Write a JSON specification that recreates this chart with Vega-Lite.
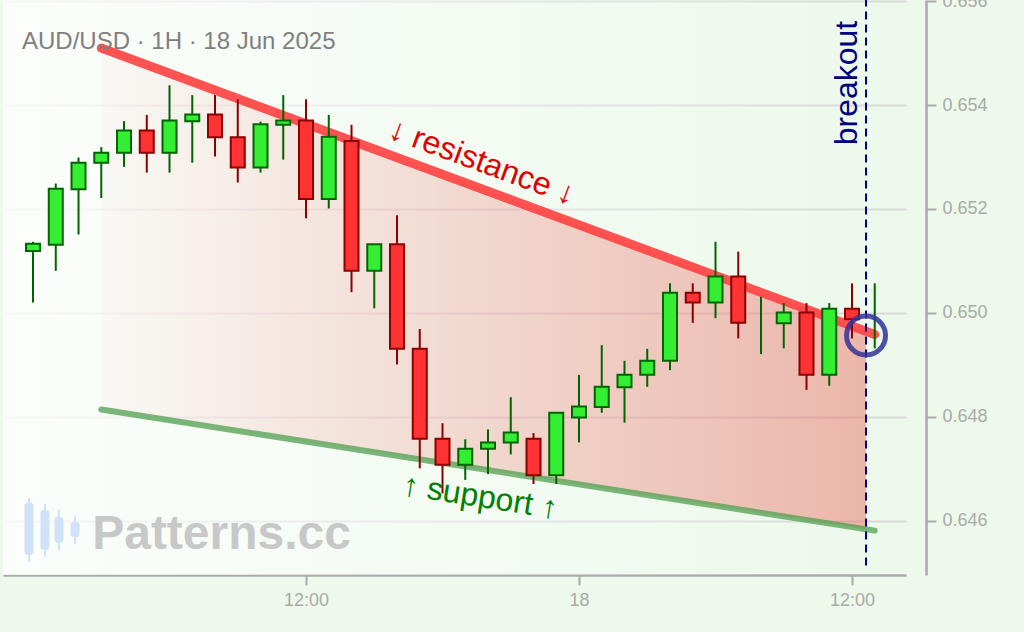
{
  "$schema": "https://vega.github.io/schema/vega-lite/v6.json",
  "width": 903,
  "height": 575,
  "autosize": "none",
  "padding": {"left": 3, "top": 0, "right": 118, "bottom": 57},
  "background": "#ecf9eb",
  "config": {
    "font": "Liberation Sans",
    "view": {"stroke": null},
    "axis": {
      "labelColor": "#aaaaaa",
      "labelFontSize": 18,
      "labelPadding": 6,
      "tickColor": "#aaaaaa",
      "tickSize": 10,
      "tickWidth": 2,
      "domainColor": "#aaaaaa",
      "domainWidth": 2.5,
      "gridColor": "#d9d9d9",
      "gridWidth": 2
    }
  },
  "datasets": {
    "candles": [
      {"t": "2025-06-17T00:00:00Z", "o": 0.65119, "h": 0.65137, "l": 0.65020, "c": 0.65133},
      {"t": "2025-06-17T01:00:00Z", "o": 0.65131, "h": 0.65249, "l": 0.65081, "c": 0.65239},
      {"t": "2025-06-17T02:00:00Z", "o": 0.65238, "h": 0.65299, "l": 0.65151, "c": 0.65289},
      {"t": "2025-06-17T03:00:00Z", "o": 0.65289, "h": 0.65319, "l": 0.65221, "c": 0.65308},
      {"t": "2025-06-17T04:00:00Z", "o": 0.65308, "h": 0.65369, "l": 0.65281, "c": 0.65351},
      {"t": "2025-06-17T05:00:00Z", "o": 0.65351, "h": 0.65381, "l": 0.65270, "c": 0.65308},
      {"t": "2025-06-17T06:00:00Z", "o": 0.65308, "h": 0.65438, "l": 0.65270, "c": 0.65370},
      {"t": "2025-06-17T07:00:00Z", "o": 0.65369, "h": 0.65419, "l": 0.65289, "c": 0.65382},
      {"t": "2025-06-17T08:00:00Z", "o": 0.65382, "h": 0.65419, "l": 0.65301, "c": 0.65338},
      {"t": "2025-06-17T09:00:00Z", "o": 0.65338, "h": 0.65411, "l": 0.65251, "c": 0.65280},
      {"t": "2025-06-17T10:00:00Z", "o": 0.65280, "h": 0.65368, "l": 0.65270, "c": 0.65363},
      {"t": "2025-06-17T11:00:00Z", "o": 0.65362, "h": 0.65419, "l": 0.65295, "c": 0.65370},
      {"t": "2025-06-17T12:00:00Z", "o": 0.65370, "h": 0.65411, "l": 0.65182, "c": 0.65219},
      {"t": "2025-06-17T13:00:00Z", "o": 0.65219, "h": 0.65381, "l": 0.65201, "c": 0.65339},
      {"t": "2025-06-17T14:00:00Z", "o": 0.65331, "h": 0.65362, "l": 0.65040, "c": 0.65081},
      {"t": "2025-06-17T15:00:00Z", "o": 0.65081, "h": 0.65132, "l": 0.65009, "c": 0.65132},
      {"t": "2025-06-17T16:00:00Z", "o": 0.65132, "h": 0.65188, "l": 0.64901, "c": 0.64931},
      {"t": "2025-06-17T17:00:00Z", "o": 0.64931, "h": 0.64969, "l": 0.64701, "c": 0.64758},
      {"t": "2025-06-17T18:00:00Z", "o": 0.64758, "h": 0.64788, "l": 0.64653, "c": 0.64708},
      {"t": "2025-06-17T19:00:00Z", "o": 0.64708, "h": 0.64757, "l": 0.64679, "c": 0.64739},
      {"t": "2025-06-17T20:00:00Z", "o": 0.64739, "h": 0.64776, "l": 0.64690, "c": 0.64751},
      {"t": "2025-06-17T21:00:00Z", "o": 0.64751, "h": 0.64838, "l": 0.64728, "c": 0.64770},
      {"t": "2025-06-17T22:00:00Z", "o": 0.64758, "h": 0.64769, "l": 0.64671, "c": 0.64688},
      {"t": "2025-06-17T23:00:00Z", "o": 0.64688, "h": 0.64808, "l": 0.64671, "c": 0.64808},
      {"t": "2025-06-18T00:00:00Z", "o": 0.64799, "h": 0.64881, "l": 0.64751, "c": 0.64820},
      {"t": "2025-06-18T01:00:00Z", "o": 0.64819, "h": 0.64938, "l": 0.64808, "c": 0.64858},
      {"t": "2025-06-18T02:00:00Z", "o": 0.64857, "h": 0.64908, "l": 0.64789, "c": 0.64881},
      {"t": "2025-06-18T03:00:00Z", "o": 0.64881, "h": 0.64931, "l": 0.64858, "c": 0.64908},
      {"t": "2025-06-18T04:00:00Z", "o": 0.64908, "h": 0.65057, "l": 0.64890, "c": 0.65039},
      {"t": "2025-06-18T05:00:00Z", "o": 0.65039, "h": 0.65057, "l": 0.64981, "c": 0.65020},
      {"t": "2025-06-18T06:00:00Z", "o": 0.65020, "h": 0.65137, "l": 0.64990, "c": 0.65070},
      {"t": "2025-06-18T07:00:00Z", "o": 0.65070, "h": 0.65118, "l": 0.64951, "c": 0.64981},
      {"t": "2025-06-18T08:00:00Z", "o": 0.64990, "h": 0.65031, "l": 0.64921, "c": 0.64990},
      {"t": "2025-06-18T09:00:00Z", "o": 0.64980, "h": 0.65019, "l": 0.64932, "c": 0.65001},
      {"t": "2025-06-18T10:00:00Z", "o": 0.65001, "h": 0.65019, "l": 0.64852, "c": 0.64881},
      {"t": "2025-06-18T11:00:00Z", "o": 0.64881, "h": 0.65019, "l": 0.64860, "c": 0.65008},
      {"t": "2025-06-18T12:00:00Z", "o": 0.65008, "h": 0.65057, "l": 0.64951, "c": 0.64988},
      {"t": "2025-06-18T13:00:00Z", "o": 0.64960, "h": 0.65057, "l": 0.64932, "c": 0.64960}
    ],
    "trend": [
      {"name": "resistance", "t": "2025-06-17T03:00:00Z", "p": 0.655096},
      {"name": "resistance", "t": "2025-06-18T13:00:00Z", "p": 0.649587},
      {"name": "support", "t": "2025-06-17T03:00:00Z", "p": 0.648144},
      {"name": "support", "t": "2025-06-18T13:00:00Z", "p": 0.645813}
    ],
    "band": [
      {"t": "2025-06-17T03:00:00Z", "top": 0.655096, "bottom": 0.648144},
      {"t": "2025-06-18T12:37:00Z", "top": 0.649649, "bottom": 0.645839}
    ],
    "backdrop": [
      {"t0": 1750113650000, "t1": 1750256546000, "lo": 0.64496, "hi": 0.65602}
    ],
    "notes": [
      {"kind": "title", "text": "AUD/USD · 1H · 18 Jun 2025", "t": "2025-06-16T23:31:00Z", "p": 0.655077},
      {"kind": "resistance", "text": "↓ resistance ↓", "t": "2025-06-17T19:44:00Z", "p": 0.652904},
      {"kind": "support", "text": "↑ support ↑", "t": "2025-06-17T19:39:00Z", "p": 0.646462},
      {"kind": "breakout", "text": "breakout", "t": "2025-06-18T12:13:00Z", "p": 0.654423},
      {"kind": "watermark", "text": "Patterns.cc", "t": "2025-06-17T02:36:00Z", "p": 0.645462}
    ],
    "breakout": [
      {"t": "2025-06-18T12:37:00Z", "top": 0.65605, "bottom": 0.64506, "p": 0.649567}
    ],
    "logo": [
      {"t": "2025-06-16T23:49:30Z", "lo": 0.64521, "hi": 0.64644, "blo": 0.64535, "bhi": 0.64635},
      {"t": "2025-06-17T00:31:30Z", "lo": 0.64531, "hi": 0.64633, "blo": 0.64544, "bhi": 0.64621},
      {"t": "2025-06-17T01:08:30Z", "lo": 0.64544, "hi": 0.64621, "blo": 0.64558, "bhi": 0.64608},
      {"t": "2025-06-17T01:51:00Z", "lo": 0.64556, "hi": 0.64610, "blo": 0.64569, "bhi": 0.64598}
    ]
  },
  "encoding": {
    "x": {
      "field": "t",
      "type": "temporal",
      "title": null,
      "scale": {"type": "utc", "domain": [1750113650000, 1750256546000], "nice": false, "padding": 0},
      "axis": {
        "grid": false,
        "values": [1750161600000, 1750204800000, 1750248000000],
        "labelExpr": "utchours(datum.value) == 0 ? utcFormat(datum.value, '%d') : utcFormat(datum.value, '%H:%M')"
      }
    }
  },
  "layer": [
    {
      "data": {"name": "backdrop"},
      "mark": {
        "type": "rect",
        "fill": {
          "gradient": "linear", "x1": 0, "y1": 0, "x2": 1, "y2": 0,
          "stops": [
            {"offset": 0, "color": "rgba(255,255,255,0.8)"},
            {"offset": 0.5, "color": "rgba(255,255,255,0.4)"},
            {"offset": 1, "color": "rgba(255,255,255,0.0)"}
          ]
        }
      },
      "encoding": {
        "x": {"field": "t0", "type": "temporal"},
        "x2": {"field": "t1"},
        "y": {"field": "lo", "type": "quantitative", "title": null,
              "scale": {"domain": [0.64496, 0.65602], "nice": false, "zero": false, "padding": 0},
              "axis": {"orient": "right", "offset": 20, "grid": true, "values": [0.646, 0.648, 0.65, 0.652, 0.654, 0.656], "format": ".3f", "title": null}},
        "y2": {"field": "hi"}
      }
    },
    {
      "data": {"name": "logo"},
      "mark": {"type": "rule", "color": "#cfe2f8", "strokeWidth": 2},
      "encoding": {
        "y": {"field": "lo", "type": "quantitative", "title": null, "scale": {"domain": [0.64496, 0.65602], "nice": false, "zero": false, "padding": 0}},
        "y2": {"field": "hi"}
      }
    },
    {
      "data": {"name": "logo"},
      "mark": {"type": "bar", "width": 9, "color": "#cfe2f8", "cornerRadius": 3},
      "encoding": {
        "y": {"field": "blo", "type": "quantitative", "title": null, "scale": {"domain": [0.64496, 0.65602], "nice": false, "zero": false, "padding": 0}},
        "y2": {"field": "bhi"}
      }
    },
    {
      "data": {"name": "notes"},
      "transform": [{"filter": "datum.kind == 'watermark'"}],
      "mark": {"type": "text", "align": "left", "baseline": "alphabetic", "fontSize": 48, "fontWeight": "bold", "color": "#c8c8c8"},
      "encoding": {
        "y": {"field": "p", "type": "quantitative", "title": null, "scale": {"domain": [0.64496, 0.65602], "nice": false, "zero": false, "padding": 0}},
        "text": {"field": "text"}
      }
    },
    {
      "data": {"name": "band"},
      "mark": {
        "type": "area",
        "fill": {
          "gradient": "linear", "x1": 0, "y1": 0, "x2": 1, "y2": 0,
          "stops": [
            {"offset": 0, "color": "rgba(235,95,85,0.03)"},
            {"offset": 1, "color": "rgba(235,95,85,0.43)"}
          ]
        }
      },
      "encoding": {
        "y": {"field": "top", "type": "quantitative", "title": null, "scale": {"domain": [0.64496, 0.65602], "nice": false, "zero": false, "padding": 0}},
        "y2": {"field": "bottom"}
      }
    },
    {
      "data": {"name": "trend"},
      "transform": [{"filter": "datum.name == 'support'"}],
      "mark": {"type": "line", "color": "#4f9f4f", "opacity": 0.75, "strokeWidth": 6, "strokeCap": "round"},
      "encoding": {
        "y": {"field": "p", "type": "quantitative", "title": null, "scale": {"domain": [0.64496, 0.65602], "nice": false, "zero": false, "padding": 0}}
      }
    },
    {
      "data": {"name": "trend"},
      "transform": [{"filter": "datum.name == 'resistance'"}],
      "mark": {"type": "line", "color": "#ff4040", "opacity": 0.9, "strokeWidth": 9, "strokeCap": "round"},
      "encoding": {
        "y": {"field": "p", "type": "quantitative", "title": null, "scale": {"domain": [0.64496, 0.65602], "nice": false, "zero": false, "padding": 0}}
      }
    },
    {
      "data": {"name": "breakout"},
      "mark": {"type": "rule", "color": "#000080", "strokeWidth": 2, "strokeDash": [8, 5]},
      "encoding": {
        "y": {"field": "top", "type": "quantitative", "title": null, "scale": {"domain": [0.64496, 0.65602], "nice": false, "zero": false, "padding": 0}},
        "y2": {"field": "bottom"}
      }
    },
    {
      "data": {"name": "candles"},
      "mark": {"type": "rule", "strokeWidth": 2},
      "encoding": {
        "y": {"field": "l", "type": "quantitative", "title": null, "scale": {"domain": [0.64496, 0.65602], "nice": false, "zero": false, "padding": 0}},
        "y2": {"field": "h"},
        "color": {"condition": {"test": "datum.c >= datum.o", "value": "#006400"}, "value": "#8b0000"}
      }
    },
    {
      "data": {"name": "candles"},
      "transform": [{"filter": "datum.o != datum.c"}],
      "mark": {"type": "bar", "width": 14, "strokeWidth": 2},
      "encoding": {
        "y": {"field": "o", "type": "quantitative", "title": null, "scale": {"domain": [0.64496, 0.65602], "nice": false, "zero": false, "padding": 0}},
        "y2": {"field": "c"},
        "fill": {"condition": {"test": "datum.c >= datum.o", "value": "#33ee33"}, "value": "#ff3333"},
        "stroke": {"condition": {"test": "datum.c >= datum.o", "value": "#006400"}, "value": "#8b0000"}
      }
    },
    {
      "data": {"name": "breakout"},
      "mark": {"type": "point", "shape": "circle", "filled": false, "size": 1521, "strokeWidth": 5, "color": "#333399", "opacity": 0.85},
      "encoding": {
        "y": {"field": "p", "type": "quantitative", "title": null, "scale": {"domain": [0.64496, 0.65602], "nice": false, "zero": false, "padding": 0}}
      }
    },
    {
      "data": {"name": "notes"},
      "transform": [{"filter": "datum.kind == 'title'"}],
      "mark": {"type": "text", "align": "left", "baseline": "alphabetic", "fontSize": 24, "color": "#7f7f7f"},
      "encoding": {
        "y": {"field": "p", "type": "quantitative", "title": null, "scale": {"domain": [0.64496, 0.65602], "nice": false, "zero": false, "padding": 0}},
        "text": {"field": "text"}
      }
    },
    {
      "data": {"name": "notes"},
      "transform": [{"filter": "datum.kind == 'resistance'"}],
      "mark": {"type": "text", "align": "center", "baseline": "middle", "fontSize": 32, "angle": 20.3, "color": "#e00000"},
      "encoding": {
        "y": {"field": "p", "type": "quantitative", "title": null, "scale": {"domain": [0.64496, 0.65602], "nice": false, "zero": false, "padding": 0}},
        "text": {"field": "text"}
      }
    },
    {
      "data": {"name": "notes"},
      "transform": [{"filter": "datum.kind == 'support'"}],
      "mark": {"type": "text", "align": "center", "baseline": "middle", "fontSize": 32, "angle": 8.9, "color": "#008000"},
      "encoding": {
        "y": {"field": "p", "type": "quantitative", "title": null, "scale": {"domain": [0.64496, 0.65602], "nice": false, "zero": false, "padding": 0}},
        "text": {"field": "text"}
      }
    },
    {
      "data": {"name": "notes"},
      "transform": [{"filter": "datum.kind == 'breakout'"}],
      "mark": {"type": "text", "align": "center", "baseline": "alphabetic", "fontSize": 32, "angle": 270, "color": "#000080"},
      "encoding": {
        "y": {"field": "p", "type": "quantitative", "title": null, "scale": {"domain": [0.64496, 0.65602], "nice": false, "zero": false, "padding": 0}},
        "text": {"field": "text"}
      }
    }
  ]
}
